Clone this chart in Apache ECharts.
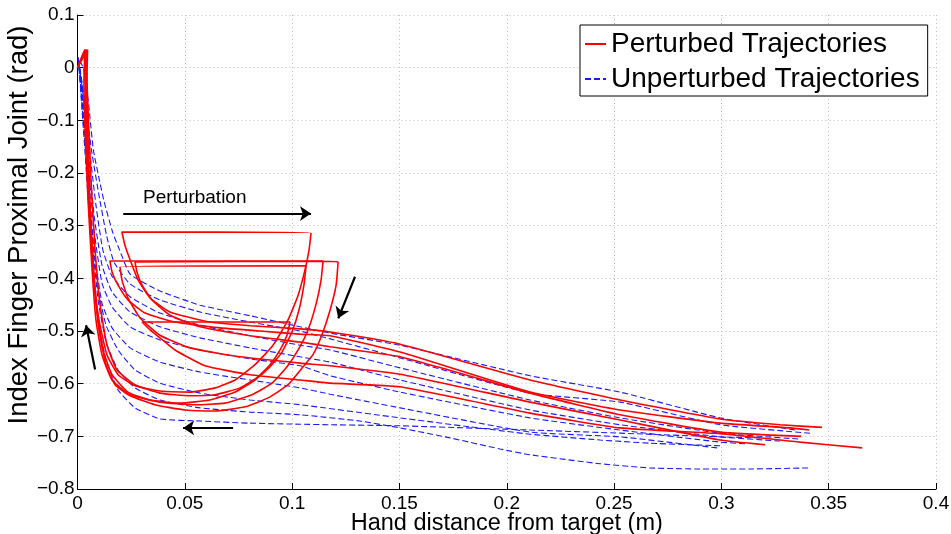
<!DOCTYPE html>
<html><head><meta charset="utf-8">
<script src="https://cdn.jsdelivr.net/npm/echarts@6/dist/echarts.min.js"></script>
<style>html,body{margin:0;padding:0;background:#fff}#c{width:951px;height:534px}</style>
</head><body><div id="c"></div>
<script>
const xTickLabels = ['0','0.05','0.1','0.15','0.2','0.25','0.3','0.35','0.4'];
const yTickLabels = ['\u22120.8','\u22120.7','\u22120.6','\u22120.5','\u22120.4','\u22120.3','\u22120.2','\u22120.1','0','0.1'];
const seriesNames = ['Perturbed Trajectories','Unperturbed Trajectories'];

// Perturbed trajectories [distance (m), angle (rad)], in time order
const red1 = [[0.3469,-0.683],[0.3274,-0.678],[0.2994,-0.667],[0.2528,-0.631],[0.2109,-0.593],[0.1503,-0.525],[0.1177,-0.502],[0.1037,-0.496],[0.0804,-0.490],[0.0617,-0.483],[0.0431,-0.464],[0.0338,-0.437],[0.0282,-0.403],[0.0249,-0.369],[0.0221,-0.337],[0.0207,-0.312],[0.1088,-0.314],[0.1079,-0.346],[0.1060,-0.384],[0.1028,-0.432],[0.0981,-0.479],[0.0911,-0.527],[0.0827,-0.564],[0.0734,-0.593],[0.0641,-0.608],[0.0524,-0.616],[0.0384,-0.614],[0.0268,-0.604],[0.0189,-0.583],[0.0137,-0.545],[0.0100,-0.479],[0.0077,-0.403],[0.0058,-0.289],[0.0044,-0.156],[0.0040,-0.042],[0.0040,0.034],[0,0]];
const red2 = [[0.3409,-0.688],[0.3320,-0.684],[0.2994,-0.675],[0.2528,-0.650],[0.2109,-0.616],[0.1503,-0.540],[0.1177,-0.509],[0.1037,-0.506],[0.0850,-0.500],[0.0664,-0.494],[0.0454,-0.483],[0.0315,-0.466],[0.0235,-0.441],[0.0189,-0.413],[0.0161,-0.388],[0.0151,-0.367],[0.1144,-0.367],[0.1135,-0.403],[0.1111,-0.450],[0.1074,-0.498],[0.1028,-0.536],[0.0976,-0.568],[0.0906,-0.599],[0.0813,-0.621],[0.0687,-0.637],[0.0548,-0.640],[0.0384,-0.635],[0.0245,-0.621],[0.0161,-0.593],[0.0114,-0.545],[0.0086,-0.479],[0.0068,-0.384],[0.0049,-0.251],[0.0035,-0.118],[0.0030,-0.023],[0.0035,0.034],[0,0]];
const red3 = [[0.3371,-0.700],[0.2994,-0.692],[0.2528,-0.659],[0.2109,-0.618],[0.1503,-0.549],[0.1177,-0.530],[0.1037,-0.521],[0.0804,-0.509],[0.0571,-0.492],[0.0431,-0.470],[0.0347,-0.441],[0.0301,-0.413],[0.0277,-0.388],[0.0268,-0.369],[0.1177,-0.368],[0.1214,-0.369],[0.1205,-0.413],[0.1177,-0.460],[0.1139,-0.507],[0.1097,-0.545],[0.1051,-0.568],[0.0981,-0.602],[0.0888,-0.627],[0.0781,-0.644],[0.0641,-0.652],[0.0501,-0.650],[0.0361,-0.640],[0.0245,-0.623],[0.0175,-0.602],[0.0133,-0.564],[0.0100,-0.498],[0.0077,-0.403],[0.0058,-0.270],[0.0049,-0.137],[0.0044,-0.023],[0.0047,0.034],[0,0]];
const red4 = [[0.3204,-0.716],[0.2994,-0.707],[0.2528,-0.669],[0.2109,-0.635],[0.1503,-0.582],[0.1177,-0.566],[0.1037,-0.561],[0.0757,-0.549],[0.0524,-0.532],[0.0384,-0.508],[0.0291,-0.475],[0.0235,-0.437],[0.0207,-0.403],[0.0198,-0.378],[0.1065,-0.376],[0.1055,-0.413],[0.1032,-0.460],[0.0999,-0.502],[0.0953,-0.540],[0.0897,-0.568],[0.0827,-0.593],[0.0734,-0.616],[0.0617,-0.631],[0.0478,-0.637],[0.0338,-0.631],[0.0235,-0.616],[0.0161,-0.583],[0.0119,-0.536],[0.0091,-0.460],[0.0072,-0.365],[0.0054,-0.232],[0.0040,-0.099],[0.0035,-0.004],[0.0042,0.034],[0,0]];
const red5 = [[0.3656,-0.722],[0.3367,-0.711],[0.2994,-0.695],[0.2528,-0.684],[0.2109,-0.656],[0.1503,-0.606],[0.1177,-0.599],[0.1037,-0.593],[0.0804,-0.583],[0.0594,-0.566],[0.0454,-0.536],[0.0384,-0.513],[0.0338,-0.498],[0.0301,-0.483],[0.0990,-0.483],[0.0976,-0.508],[0.0944,-0.536],[0.0897,-0.564],[0.0841,-0.587],[0.0757,-0.608],[0.0641,-0.621],[0.0524,-0.623],[0.0384,-0.618],[0.0268,-0.602],[0.0184,-0.574],[0.0137,-0.526],[0.0105,-0.450],[0.0082,-0.346],[0.0063,-0.213],[0.0049,-0.080],[0.0040,0.015],[0.0035,0.034],[0,0]];

// Unperturbed trajectories
const blue1 = [[0.3344,-0.688],[0.2994,-0.665],[0.2528,-0.616],[0.2109,-0.585],[0.1503,-0.527],[0.1177,-0.504],[0.1037,-0.492],[0.0804,-0.471],[0.0571,-0.451],[0.0384,-0.424],[0.0245,-0.392],[0.0195,-0.345],[0.0165,-0.314],[0.0122,-0.251],[0.0074,-0.156],[0.0050,-0.062],[0.0027,0.000],[0.0007,0.015]];
const blue2 = [[0.3413,-0.694],[0.2994,-0.678],[0.2528,-0.635],[0.2109,-0.618],[0.1503,-0.551],[0.1177,-0.515],[0.1037,-0.500],[0.0804,-0.483],[0.0571,-0.464],[0.0384,-0.441],[0.0245,-0.411],[0.0170,-0.369],[0.0135,-0.318],[0.0100,-0.242],[0.0065,-0.156],[0.0038,-0.071],[0.0016,-0.014],[0.0005,0.015]];
const blue3 = [[0.3358,-0.705],[0.2994,-0.694],[0.2528,-0.665],[0.2109,-0.631],[0.1503,-0.570],[0.1177,-0.536],[0.1037,-0.527],[0.0804,-0.509],[0.0571,-0.489],[0.0384,-0.466],[0.0245,-0.435],[0.0161,-0.396],[0.0118,-0.346],[0.0086,-0.261],[0.0056,-0.156],[0.0030,-0.061],[0.0012,-0.004],[0.0004,0.012]];
const blue4 = [[0.3274,-0.709],[0.2994,-0.701],[0.2528,-0.678],[0.2109,-0.650],[0.1503,-0.593],[0.1177,-0.559],[0.1037,-0.549],[0.0804,-0.532],[0.0571,-0.513],[0.0384,-0.492],[0.0245,-0.464],[0.0161,-0.426],[0.0114,-0.375],[0.0077,-0.280],[0.0049,-0.156],[0.0026,-0.052],[0.0007,0.005],[0.0003,0.018]];
const blue5 = [[0.3110,-0.714],[0.2994,-0.711],[0.2528,-0.688],[0.2109,-0.665],[0.1503,-0.616],[0.1177,-0.585],[0.1037,-0.566],[0.0804,-0.553],[0.0571,-0.536],[0.0384,-0.517],[0.0245,-0.492],[0.0161,-0.454],[0.0114,-0.409],[0.0077,-0.308],[0.0049,-0.175],[0.0026,-0.061],[0.0007,0.005],[0.0003,0.020]];
const blue6 = [[0.2980,-0.722],[0.2528,-0.701],[0.2109,-0.692],[0.1503,-0.646],[0.1177,-0.620],[0.1037,-0.608],[0.0804,-0.593],[0.0571,-0.578],[0.0384,-0.559],[0.0245,-0.532],[0.0161,-0.494],[0.0114,-0.447],[0.0077,-0.346],[0.0049,-0.204],[0.0026,-0.071],[0.0007,0.003],[0.0003,0.020]];
const blue7 = [[0.3180,-0.703],[0.2994,-0.701],[0.2528,-0.694],[0.2109,-0.688],[0.1503,-0.680],[0.1177,-0.678],[0.1037,-0.677],[0.0804,-0.675],[0.0571,-0.671],[0.0384,-0.667],[0.0268,-0.646],[0.0189,-0.612],[0.0133,-0.555],[0.0096,-0.479],[0.0068,-0.365],[0.0044,-0.213],[0.0021,-0.080],[0.0007,0.001],[0.0003,0.020]];
const blue8 = [[0.2994,-0.718],[0.2668,-0.713],[0.2435,-0.707],[0.2109,-0.696],[0.1829,-0.682],[0.1503,-0.665],[0.1037,-0.640],[0.0804,-0.631],[0.0571,-0.618],[0.0384,-0.599],[0.0268,-0.574],[0.0189,-0.536],[0.0133,-0.489],[0.0096,-0.422],[0.0068,-0.308],[0.0044,-0.175],[0.0021,-0.061],[0.0007,0.003],[0.0003,0.020]];
const blue9 = [[0.3404,-0.760],[0.3134,-0.762],[0.2901,-0.762],[0.2668,-0.760],[0.2435,-0.752],[0.2109,-0.735],[0.1969,-0.724],[0.1736,-0.703],[0.1503,-0.684],[0.1316,-0.671],[0.1037,-0.659],[0.0804,-0.654],[0.0571,-0.646],[0.0384,-0.631],[0.0268,-0.608],[0.0189,-0.574],[0.0133,-0.521],[0.0096,-0.441],[0.0068,-0.327],[0.0044,-0.194],[0.0021,-0.071],[0.0007,0.003],[0.0003,0.020]];

const perturbedSet = [red1, red2, red3, red4, red5];
const unperturbedSet = [blue1, blue2, blue3, blue4, blue5, blue6, blue7, blue8, blue9];

// Annotation arrows [from, to] in data coordinates
const arrows = [
  [[0.0213,-0.277],[0.1088,-0.277]],
  [[0.1293,-0.397],[0.1215,-0.476]],
  [[0.0725,-0.684],[0.0492,-0.684]],
  [[0.0082,-0.573],[0.0040,-0.489]]
];
const annotationText = 'Perturbation';

const FONT = "'Liberation Sans', Arial, Helvetica, sans-serif";
const chart = echarts.init(document.getElementById('c'), null, {renderer: 'canvas'});

const series = [];
unperturbedSet.forEach(d => series.push({
  type: 'line', name: seriesNames[1], data: d, symbol: 'none', symbolSize: 0, smooth: 0.15,
  lineStyle: {color: '#1a1aff', width: 1.1, type: [6, 3]}, itemStyle: {color: '#1a1aff'},
  clip: true, z: 2
}));
perturbedSet.forEach((d, i) => {
  const s = {
    type: 'line', name: seriesNames[0], data: d, symbol: 'none', symbolSize: 0, smooth: 0.15,
    lineStyle: {color: '#ff0000', width: 1.6, type: 'solid'}, itemStyle: {color: '#ff0000'},
    clip: true, z: 3
  };
  if (i === 0) {
    s.markLine = {
      silent: true, animation: false, symbol: ['none', 'arrow'], symbolSize: 11,
      lineStyle: {color: '#000', width: 2.2, type: 'solid'},
      label: {show: false},
      data: arrows.map(a => [{coord: a[0]}, {coord: a[1]}])
    };
  }
  series.push(s);
});

chart.setOption({
  animation: false,
  backgroundColor: '#fff',
  grid: {left: 77.5, right: 15, top: 15, bottom: 45, containLabel: false, outerBoundsMode: 'none'},
  xAxis: {
    type: 'value', min: 0, max: 0.4, interval: 0.05,
    name: 'Hand distance from target (m)', nameLocation: 'middle', nameGap: 23, nameMoveOverlap: false,
    nameTextStyle: {fontFamily: FONT, fontSize: 23.5, color: '#000'},
    axisLine: {show: true, onZero: false, lineStyle: {color: '#000', width: 1}},
    axisTick: {show: true, inside: true, length: 6, lineStyle: {color: '#000'}},
    axisLabel: {fontFamily: FONT, fontSize: 19, color: '#000', margin: 5,
      formatter: v => xTickLabels[Math.round(v / 0.05)]},
    splitLine: {show: true, lineStyle: {color: '#bdbdbd', width: 1, type: [1, 3]}}
  },
  yAxis: {
    type: 'value', min: -0.8, max: 0.1, interval: 0.1,
    name: 'Index Finger Proximal Joint (rad)', nameLocation: 'middle', nameGap: 44, nameMoveOverlap: false,
    nameTextStyle: {fontFamily: FONT, fontSize: 27.5, color: '#000', padding: [0, 0, 0, 54]},
    axisLine: {show: true, onZero: false, lineStyle: {color: '#000', width: 1}},
    axisTick: {show: true, inside: true, length: 6, lineStyle: {color: '#000'}},
    axisLabel: {fontFamily: FONT, fontSize: 19, color: '#000', margin: 3,
      formatter: v => yTickLabels[Math.round((v + 0.8) / 0.1)]},
    splitLine: {show: true, lineStyle: {color: '#bdbdbd', width: 1, type: [1, 3]}}
  },
  legend: {
    show: true, orient: 'vertical', left: 580, top: 25,
    data: seriesNames, selectedMode: false,
    padding: [5, 8, 3, 4], itemGap: 7, itemWidth: 21, itemHeight: 14,
    itemStyle: {opacity: 0},
    borderColor: '#000', borderWidth: 1, backgroundColor: '#fff', borderRadius: 0,
    textStyle: {fontFamily: FONT, fontSize: 28, color: '#000'}
  },
  graphic: [{
    type: 'text', left: 143, top: 188, z: 10,
    style: {text: annotationText, font: '19px ' + FONT, fill: '#000'}
  }],
  series: series
});
</script>
</body></html>
